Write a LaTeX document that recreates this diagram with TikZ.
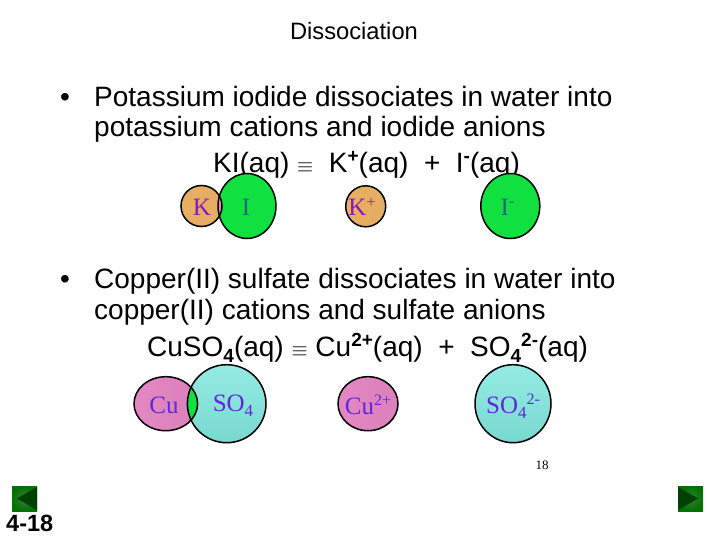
\documentclass[tikz,border=0pt]{standalone}
\usepackage{fontspec}
\setmainfont{Liberation Sans}
\newfontfamily\lserif{Liberation Serif}
\usetikzlibrary{shapes.geometric}
\definecolor{kfill}{HTML}{E8B060}
\definecolor{kfillb}{HTML}{E4AC66}
\definecolor{gfill}{HTML}{10E040}
\definecolor{pfill}{HTML}{E488C4}
\definecolor{pfillb}{HTML}{DC80BC}
\definecolor{cfill}{HTML}{94ECE4}
\definecolor{cfillb}{HTML}{78D8D0}
\definecolor{lblp}{HTML}{8A18C0}
\definecolor{lblb}{HTML}{6028D8}
\definecolor{lblg}{HTML}{206878}
\newcommand{\upp}[1]{\raisebox{0.36em}{\fontsize{19}{19}\selectfont\bfseries #1}}
\newcommand{\dnn}[1]{\raisebox{-0.2em}{\fontsize{19}{19}\selectfont\bfseries #1}}
\newcommand{\lup}[1]{\raisebox{0.34em}{\fontsize{16}{16}\selectfont #1}}
\newcommand{\ldn}[1]{\raisebox{-0.2em}{\fontsize{17}{17}\selectfont #1}}
\newcommand{\eqv}{{\fontsize{21}{21}\selectfont$\equiv$}}
\tikzset{
 body/.style={anchor=base west,inner sep=0pt,font=\fontsize{28}{28}\selectfont},
 atom/.style={shape=ellipse,inner sep=0pt},
 ring/.style={draw=black,line width=1.5pt},
 kshade/.style={left color=kfill,right color=kfillb},
 pshade/.style={left color=pfill,right color=pfillb},
 cshade/.style={shading angle=135,top color=cfill,bottom color=cfillb},
 lbl/.style={inner sep=0pt,font=\lserif\fontsize{25}{25}\selectfont},
 navbtn/.style={draw=none,inner sep=0pt,shape=rectangle,minimum size=25pt,inner color=black!70!green!75,outer color=green!45!black},
 navtri/.style={fill=black!75!green,draw=none}
}
\begin{document}
\begin{tikzpicture}[x=1pt,y=-1pt]
\useasboundingbox (0,0) rectangle (720,540);
\node[inner sep=0pt,font=\fontsize{23.7}{23.7}\selectfont] (title) at (354,31) {Dissociation};
\node[body] (b1) at (60,106.5) {•};
\node[body] (l1) at (94,106.5) {Potassium iodide dissociates in water into};
\node[body] (l2) at (94,137) {potassium cations and iodide anions};
\node[body] (l3) at (213,173) {KI(aq) \eqv\ \ K\upp{+}(aq)\ \ +\ \ I\upp{-}(aq)};
\node[body] (b2) at (60,288) {•};
\node[body] (l4) at (94,288) {Copper(II) sulfate dissociates in water into};
\node[body] (l5) at (94,319) {copper(II) cations and sulfate anions};
\node[body] (l6) at (147,356.5) {CuSO\dnn{4}(aq) \eqv\ Cu\upp{2+}(aq)\ \ +\ \ SO\dnn{4}\upp{2-}(aq)};
% first row
\node[atom,kshade,minimum width=41pt,minimum height=41pt] (k) at (201.5,206) {};
\node[atom,fill=gfill,minimum width=58pt,minimum height=65pt] (i) at (247,206) {};
\begin{scope}
\clip (201.5,206) ellipse [x radius=20.5,y radius=20.5];
\fill[pfill] (247,206) ellipse [x radius=29,y radius=32.5];
\end{scope}
\draw[ring] (201.5,206) ellipse [x radius=20.5,y radius=20.5];
\draw[ring] (247,206) ellipse [x radius=29,y radius=32.5];
\node[atom,ring,kshade,minimum width=40pt,minimum height=41pt] (kp) at (365.7,206.3) {};
\node[atom,ring,fill=gfill,minimum width=59pt,minimum height=65pt] (im) at (510.3,206) {};
\node[lbl,text=lblp] (tk) at (202,207) {K};
\node[lbl,text=lblg] (ti) at (246,207) {I};
\node[lbl,text=lblp] (tkp) at (362,207) {K\lup{+}};
\node[lbl,text=lblg] (tim) at (507.5,207) {I\lup{-}};
% second row
\node[atom,pshade,minimum width=63.6pt,minimum height=54pt] (cu) at (165.8,403.7) {};
\node[atom,cshade,minimum width=78.6pt,minimum height=78pt] (so) at (226.7,403.7) {};
\begin{scope}
\clip (165.8,403.7) ellipse [x radius=31.8,y radius=27];
\fill[gfill] (226.7,403.7) ellipse [x radius=39.3,y radius=39];
\end{scope}
\draw[ring] (165.8,403.7) ellipse [x radius=31.8,y radius=27];
\draw[ring] (226.7,403.7) ellipse [x radius=39.3,y radius=39];
\node[atom,ring,pshade,minimum width=60pt,minimum height=54pt] (cup) at (368,403.7) {};
\node[atom,ring,cshade,minimum width=76pt,minimum height=78pt] (som) at (513,403.7) {};
\node[lbl,text=lblb] (tcu) at (164,405) {Cu};
\node[lbl,text=lblb] (tso) at (233,406) {SO\ldn{4}};
\node[lbl,text=lblb] (tcup) at (368,405) {Cu\lup{2+}};
\node[lbl,text=lblb] (tsom) at (513,406) {SO\ldn{4}\lup{2-}};
\node[inner sep=0pt,font=\lserif\fontsize{13}{13}\selectfont] (pg) at (542,465) {18};
% nav
\node[navbtn] (prev) at (24.5,498.5) {};
\fill[navtri] (17,498.5) -- (37,487) -- (37,510) -- cycle;
\node[navbtn] (next) at (690.5,498.5) {};
\fill[navtri] (698,498.5) -- (678,487) -- (678,510) -- cycle;
\node[anchor=base west,inner sep=0pt,font=\bfseries\fontsize{23.5}{23.5}\selectfont] (num) at (6,531) {4-18};
\end{tikzpicture}
\end{document}
